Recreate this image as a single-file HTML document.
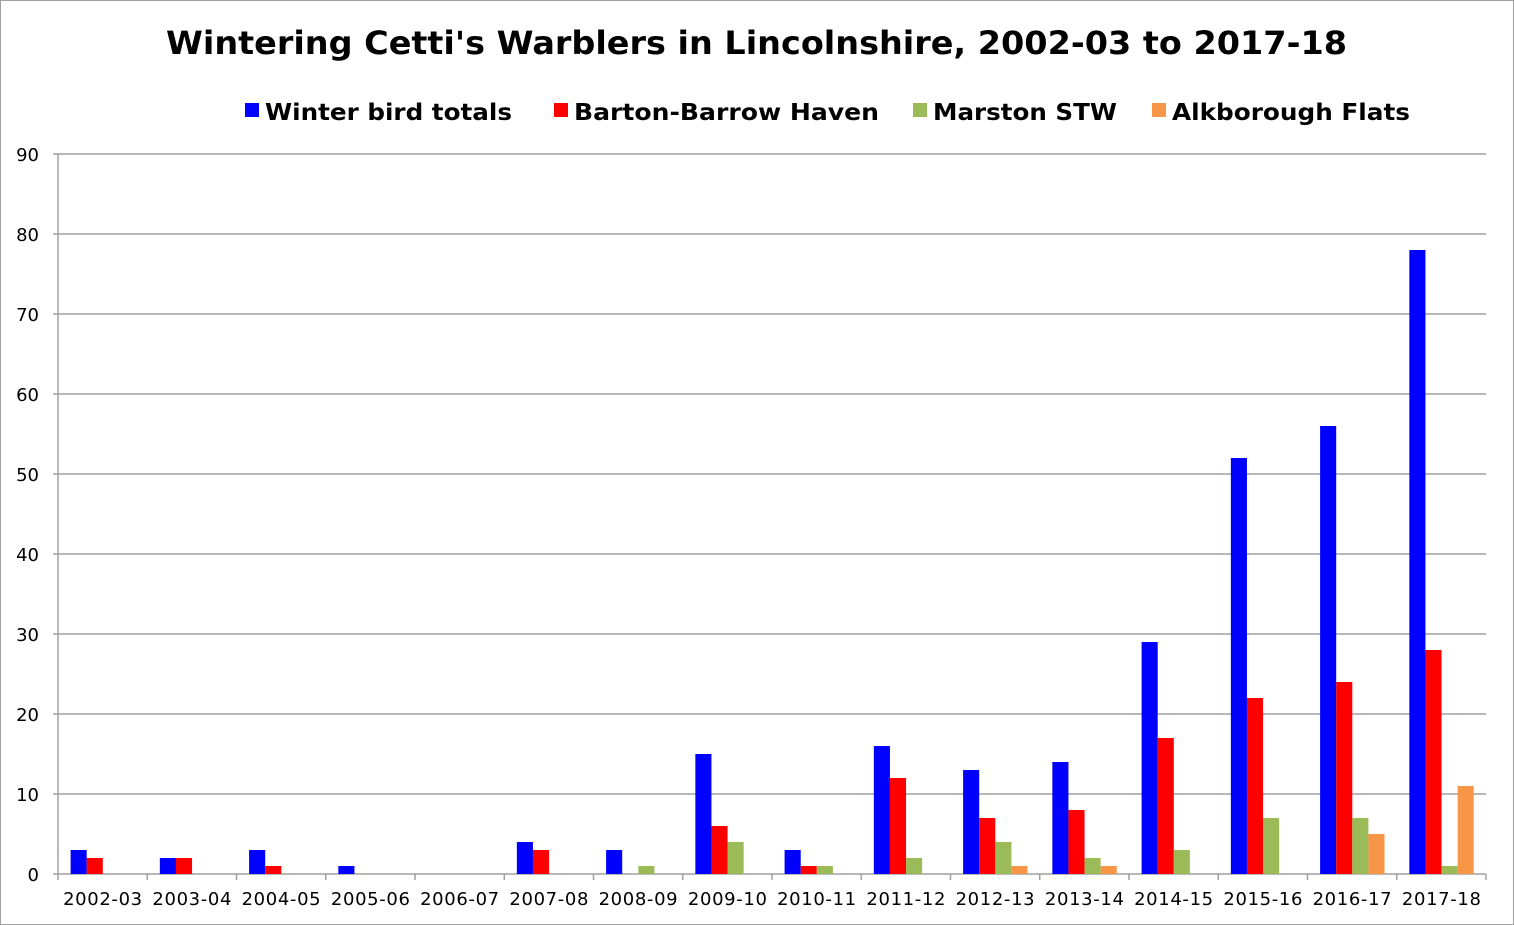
<!DOCTYPE html>
<html><head><meta charset="utf-8"><style>
html,body{margin:0;padding:0;background:#fff}
svg{display:block;font-family:"DejaVu Sans","Liberation Sans",sans-serif}
</style></head><body>
<svg id="c" width="1514" height="925" viewBox="0 0 1514 925" xmlns="http://www.w3.org/2000/svg">
<rect x="0.5" y="0.5" width="1513" height="924" fill="#fff" stroke="#a0a0a0"/>
<text x="166" y="54" font-size="32" font-weight="bold" textLength="1181" lengthAdjust="spacingAndGlyphs">Wintering Cetti's Warblers in Lincolnshire, 2002-03 to 2017-18</text>
<g font-size="23" font-weight="bold">
<rect x="245" y="103" width="14" height="14" fill="#0000ff"/><text x="265" y="120" textLength="247" lengthAdjust="spacingAndGlyphs">Winter bird totals</text>
<rect x="554" y="103" width="14" height="14" fill="#ff0000"/><text x="574" y="120" textLength="305" lengthAdjust="spacingAndGlyphs">Barton-Barrow Haven</text>
<rect x="913" y="103" width="14" height="14" fill="#9bbb59"/><text x="933" y="120" textLength="184" lengthAdjust="spacingAndGlyphs">Marston STW</text>
<rect x="1152" y="103" width="14" height="14" fill="#f79646"/><text x="1172" y="120" textLength="238" lengthAdjust="spacingAndGlyphs">Alkborough Flats</text>
</g>
<g id="grid" stroke="#a0a0a0" stroke-width="1.5"></g>
<g id="bars"></g>
<g font-size="18" text-anchor="end">
<text x="39" y="161">90</text><text x="39" y="241">80</text><text x="39" y="321">70</text>
<text x="39" y="401">60</text><text x="39" y="481">50</text><text x="39" y="561">40</text>
<text x="39" y="641">30</text><text x="39" y="721">20</text><text x="39" y="801">10</text>
<text x="39" y="881">0</text>
</g>
<g id="xl" font-size="18" text-anchor="middle"></g>
<g font-size="18" text-anchor="middle" lengthAdjust="spacingAndGlyphs">
<text x="102.6" y="905" textLength="79">2002-03</text><text x="191.9" y="905" textLength="79">2003-04</text><text x="281.1" y="905" textLength="79">2004-05</text>
<text x="370.4" y="905" textLength="79">2005-06</text><text x="459.6" y="905" textLength="79">2006-07</text><text x="548.9" y="905" textLength="79">2007-08</text>
<text x="638.1" y="905" textLength="79">2008-09</text><text x="727.4" y="905" textLength="79">2009-10</text><text x="816.6" y="905" textLength="79">2010-11</text>
<text x="905.9" y="905" textLength="79">2011-12</text><text x="995.1" y="905" textLength="79">2012-13</text><text x="1084.4" y="905" textLength="79">2013-14</text>
<text x="1173.6" y="905" textLength="79">2014-15</text><text x="1262.9" y="905" textLength="79">2015-16</text><text x="1352.1" y="905" textLength="79">2016-17</text>
<text x="1441.4" y="905" textLength="79">2017-18</text>
</g>
</svg>
<script>
var ns="http://www.w3.org/2000/svg";
function el(p,t,a){var e=document.createElementNS(ns,t);for(var k in a)e.setAttribute(k,a[k]);p.appendChild(e);return e;}
var g=document.getElementById("grid"),b=document.getElementById("bars");
var x0=58,x1=1486,y0=874,cw=(x1-x0)/16;
for(var v=10;v<=90;v+=10){var y=y0-v*8;el(g,"line",{x1:x0-5,x2:x1,y1:y,y2:y});}
el(g,"line",{x1:x0,x2:x0,y1:154,y2:y0});
el(g,"line",{x1:x0-5,x2:x1,y1:y0,y2:y0});
for(var i=0;i<=16;i++){var x=x0+i*cw;el(g,"line",{x1:x,x2:x,y1:y0,y2:y0+6});}
var d=[[3,2,3,1,0,4,3,15,3,16,13,14,29,52,56,78],[2,2,1,0,0,3,0,6,1,12,7,8,17,22,24,28],[0,0,0,0,0,0,1,4,1,2,4,2,3,7,7,1],[0,0,0,0,0,0,0,0,0,0,1,1,0,0,5,11]];
var col=["#0000ff","#ff0000","#9bbb59","#f79646"],bw=16.1;
for(var s=0;s<4;s++)for(var i=0;i<16;i++){var v=d[s][i];if(!v)continue;el(b,"rect",{x:x0+i*cw+12.6+s*bw,y:y0-v*8,width:bw,height:v*8,fill:col[s]});}
</script>
</body></html>
